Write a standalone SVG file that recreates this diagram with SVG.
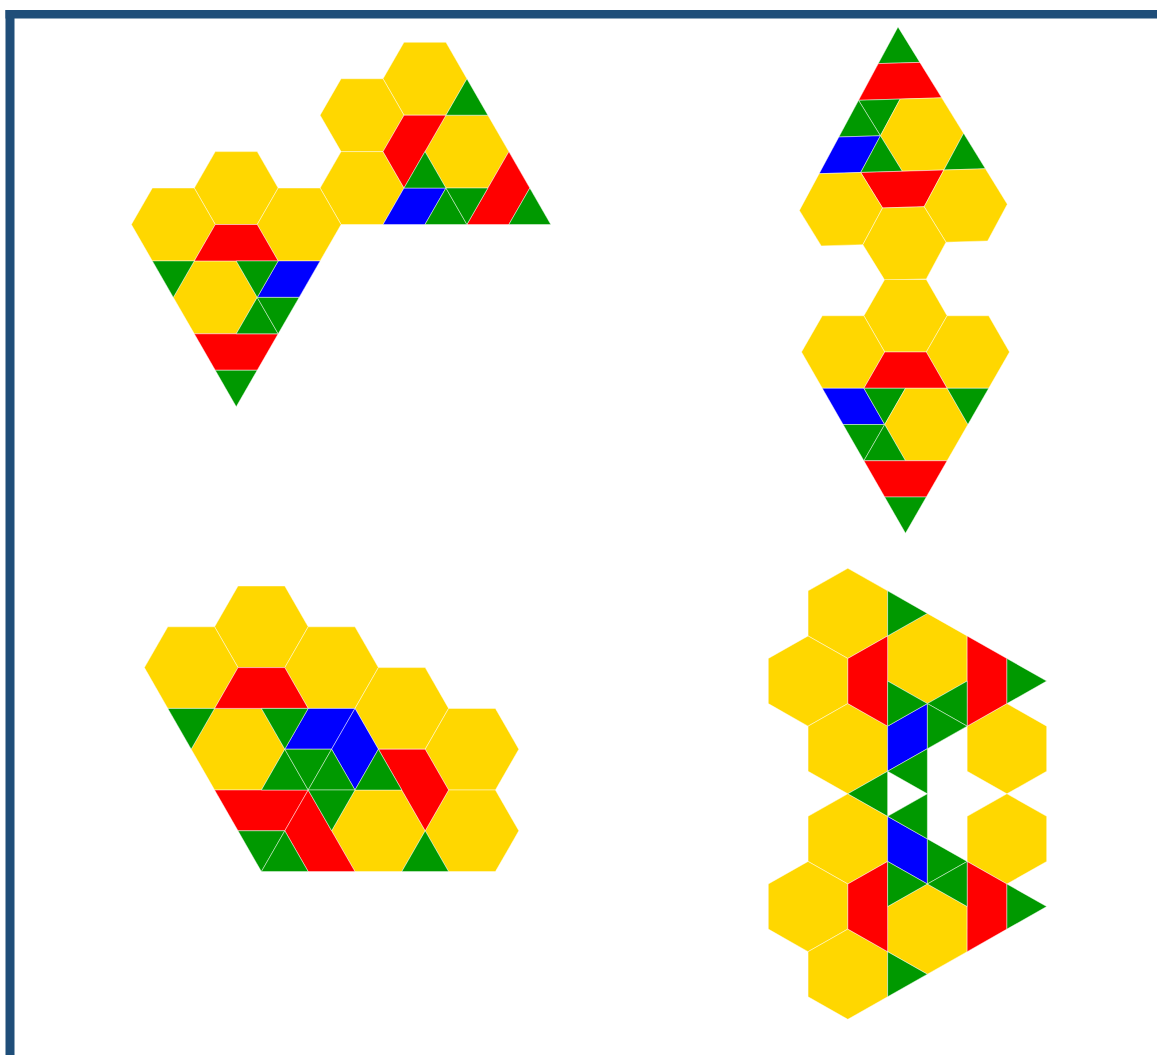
<svg xmlns="http://www.w3.org/2000/svg" width="1157" height="1055" viewBox="0 0 1157 1055">
<style>
.y{fill:#FFD700}.r{fill:#FF0000}.g{fill:#009900}.b{fill:#0000FF}
polygon{stroke:#ffffff;stroke-width:0.8;stroke-opacity:.55;vector-effect:non-scaling-stroke;stroke-linejoin:round}
.frame{fill:#1F4E79}
</style>
<rect width="1157" height="1055" fill="#ffffff"/>
<g id="border">
<rect class="frame" x="5.5" y="10" width="9" height="1045"/>
<rect class="frame" x="5.5" y="10" width="1151.5" height="8.5"/>
</g>
<g id="figure-top-left" transform="translate(404,42.3) scale(20.97,36.44)">
<polygon class="y" points="0,0 2,0 3,1 2,2 0,2 -1,1"/>
<polygon class="y" points="-3,1 -1,1 0,2 -1,3 -3,3 -4,2"/>
<polygon class="y" points="-3,3 -1,3 0,4 -1,5 -3,5 -4,4"/>
<polygon class="y" points="2,2 4,2 5,3 4,4 2,4 1,3"/>
<polygon class="y" points="-9,3 -7,3 -6,4 -7,5 -9,5 -10,4"/>
<polygon class="y" points="-12,4 -10,4 -9,5 -10,6 -12,6 -13,5"/>
<polygon class="y" points="-6,4 -4,4 -3,5 -4,6 -6,6 -7,5"/>
<polygon class="y" points="-10,6 -8,6 -7,7 -8,8 -10,8 -11,7"/>
<polygon class="r" points="-9,5 -7,5 -6,6 -10,6"/>
<polygon class="r" points="-10,8 -6,8 -7,9 -9,9"/>
<polygon class="r" points="0,2 2,2 0,4 -1,3"/>
<polygon class="r" points="5,3 6,4 5,5 3,5"/>
<polygon class="b" points="0,4 2,4 1,5 -1,5"/>
<polygon class="b" points="-6,6 -4,6 -5,7 -7,7"/>
<polygon class="g" points="3,1 4,2 2,2"/>
<polygon class="g" points="1,3 2,4 0,4"/>
<polygon class="g" points="2,4 3,5 1,5"/>
<polygon class="g" points="2,4 4,4 3,5"/>
<polygon class="g" points="6,4 7,5 5,5"/>
<polygon class="g" points="-12,6 -10,6 -11,7"/>
<polygon class="g" points="-8,6 -6,6 -7,7"/>
<polygon class="g" points="-7,7 -6,8 -8,8"/>
<polygon class="g" points="-7,7 -5,7 -6,8"/>
<polygon class="g" points="-9,9 -7,9 -8,10"/>
</g>
<g id="figure-top-right-upper" transform="translate(905.5,279.5) rotate(-1.7) scale(20.8,36.1) translate(0,-7)">
<polygon class="g" points="0,0 1,1 -1,1"/>
<polygon class="r" points="-1,1 1,1 2,2 -2,2"/>
<polygon class="g" points="-2,2 0,2 -1,3"/>
<polygon class="g" points="-2,2 -1,3 -3,3"/>
<polygon class="y" points="0,2 2,2 3,3 2,4 0,4 -1,3"/>
<polygon class="b" points="-3,3 -1,3 -2,4 -4,4"/>
<polygon class="g" points="-1,3 0,4 -2,4"/>
<polygon class="g" points="3,3 4,4 2,4"/>
<polygon class="r" points="-2,4 2,4 1,5 -1,5"/>
<polygon class="y" points="-4,4 -2,4 -1,5 -2,6 -4,6 -5,5"/>
<polygon class="y" points="2,4 4,4 5,5 4,6 2,6 1,5"/>
<polygon class="y" points="-1,5 1,5 2,6 1,7 -1,7 -2,6"/>
</g>
<g id="figure-top-right-lower" transform="translate(905.5,279.5) scale(20.8,36.25)">
<polygon class="y" points="-1,0 1,0 2,1 1,2 -1,2 -2,1"/>
<polygon class="y" points="-4,1 -2,1 -1,2 -2,3 -4,3 -5,2"/>
<polygon class="y" points="2,1 4,1 5,2 4,3 2,3 1,2"/>
<polygon class="r" points="-1,2 1,2 2,3 -2,3"/>
<polygon class="b" points="-4,3 -2,3 -1,4 -3,4"/>
<polygon class="g" points="-2,3 0,3 -1,4"/>
<polygon class="y" points="0,3 2,3 3,4 2,5 0,5 -1,4"/>
<polygon class="g" points="2,3 4,3 3,4"/>
<polygon class="g" points="-3,4 -1,4 -2,5"/>
<polygon class="g" points="-1,4 0,5 -2,5"/>
<polygon class="r" points="-2,5 2,5 1,6 -1,6"/>
<polygon class="g" points="-1,6 1,6 0,7"/>
</g>
<g id="figure-bottom-left" transform="translate(238,586) scale(23.4,40.8)">
<polygon class="y" points="0,0 2,0 3,1 2,2 0,2 -1,1"/>
<polygon class="y" points="-3,1 -1,1 0,2 -1,3 -3,3 -4,2"/>
<polygon class="y" points="3,1 5,1 6,2 5,3 3,3 2,2"/>
<polygon class="y" points="6,2 8,2 9,3 8,4 6,4 5,3"/>
<polygon class="y" points="9,3 11,3 12,4 11,5 9,5 8,4"/>
<polygon class="y" points="9,5 11,5 12,6 11,7 9,7 8,6"/>
<polygon class="y" points="5,5 7,5 8,6 7,7 5,7 4,6"/>
<polygon class="y" points="-1,3 1,3 2,4 1,5 -1,5 -2,4"/>
<polygon class="r" points="0,2 2,2 3,3 -1,3"/>
<polygon class="r" points="-1,5 3,5 2,6 0,6"/>
<polygon class="r" points="3,5 5,7 3,7 2,6"/>
<polygon class="r" points="6,4 8,4 9,5 8,6"/>
<polygon class="b" points="3,3 5,3 4,4 2,4"/>
<polygon class="b" points="5,3 6,4 5,5 4,4"/>
<polygon class="g" points="-3,3 -1,3 -2,4"/>
<polygon class="g" points="1,3 3,3 2,4"/>
<polygon class="g" points="2,4 3,5 1,5"/>
<polygon class="g" points="2,4 4,4 3,5"/>
<polygon class="g" points="4,4 5,5 3,5"/>
<polygon class="g" points="6,4 7,5 5,5"/>
<polygon class="g" points="3,5 5,5 4,6"/>
<polygon class="g" points="0,6 2,6 1,7"/>
<polygon class="g" points="2,6 3,7 1,7"/>
<polygon class="g" points="8,6 9,7 7,7"/>
</g>
<g id="figure-bottom-right" transform="translate(768.3,568.3) scale(39.77,22.55)">
<polygon class="y" points="2,0 3,1 3,3 2,4 1,3 1,1"/>
<polygon class="y" points="1,3 2,4 2,6 1,7 0,6 0,4"/>
<polygon class="y" points="4,2 5,3 5,5 4,6 3,5 3,3"/>
<polygon class="y" points="2,6 3,7 3,9 2,10 1,9 1,7"/>
<polygon class="y" points="6,6 7,7 7,9 6,10 5,9 5,7"/>
<polygon class="y" points="2,10 3,11 3,13 2,14 1,13 1,11"/>
<polygon class="y" points="6,10 7,11 7,13 6,14 5,13 5,11"/>
<polygon class="y" points="1,13 2,14 2,16 1,17 0,16 0,14"/>
<polygon class="y" points="4,14 5,15 5,17 4,18 3,17 3,15"/>
<polygon class="y" points="2,16 3,17 3,19 2,20 1,19 1,17"/>
<polygon class="r" points="2,4 3,3 3,7 2,6"/>
<polygon class="r" points="5,3 6,4 6,6 5,7"/>
<polygon class="r" points="2,14 3,13 3,17 2,16"/>
<polygon class="r" points="5,13 6,14 6,16 5,17"/>
<polygon class="b" points="3,7 4,6 4,8 3,9"/>
<polygon class="b" points="3,11 4,12 4,14 3,13"/>
<polygon class="g" points="3,1 4,2 3,3"/>
<polygon class="g" points="6,4 7,5 6,6"/>
<polygon class="g" points="3,5 4,6 3,7"/>
<polygon class="g" points="4,6 5,5 5,7"/>
<polygon class="g" points="4,6 5,7 4,8"/>
<polygon class="g" points="3,9 4,8 4,10"/>
<polygon class="g" points="2,10 3,9 3,11"/>
<polygon class="g" points="3,11 4,10 4,12"/>
<polygon class="g" points="4,12 5,13 4,14"/>
<polygon class="g" points="4,14 5,13 5,15"/>
<polygon class="g" points="3,13 4,14 3,15"/>
<polygon class="g" points="6,14 7,15 6,16"/>
<polygon class="g" points="3,17 4,18 3,19"/>
</g>
</svg>
